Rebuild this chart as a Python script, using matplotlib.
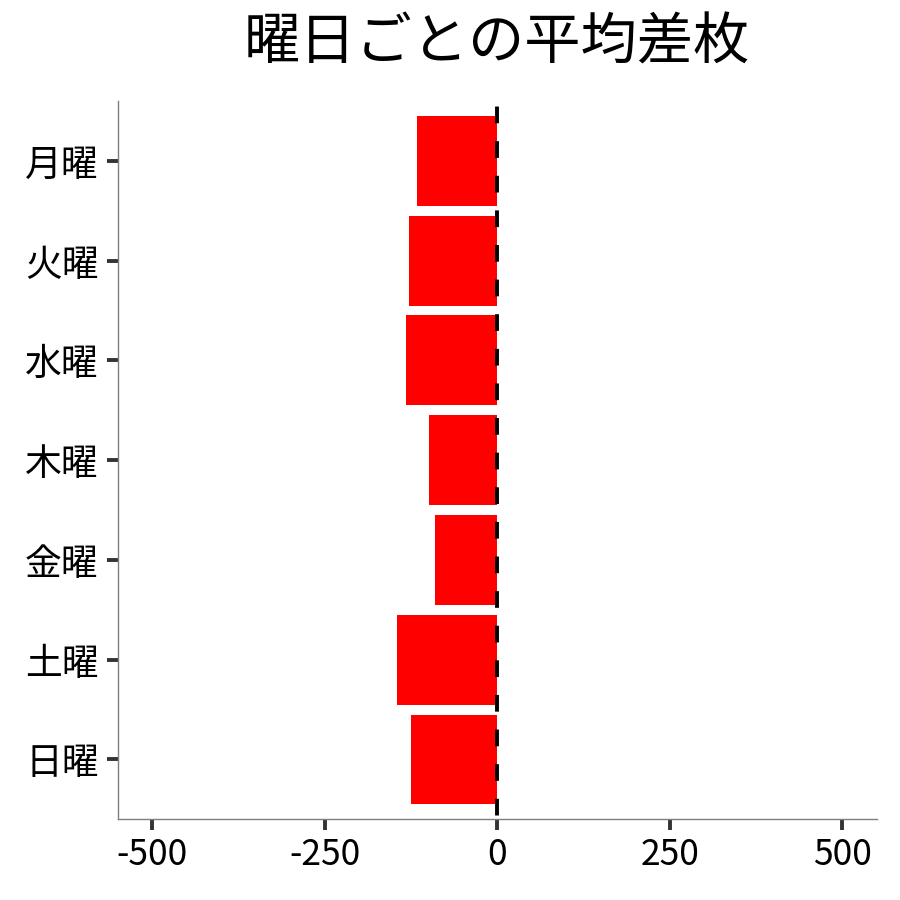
import matplotlib
matplotlib.use("Agg")
import matplotlib.pyplot as plt

plt.rcParams['font.family'] = ['Noto Sans CJK JP', 'DejaVu Sans']

# average difference per weekday
days = ["月曜", "火曜", "水曜", "木曜", "金曜", "土曜", "日曜"]
avg_diff = [-117, -128, -132, -99, -91, -145, -125]
x_ticks = [-500, -250, 0, 250, 500]
title = "曜日ごとの平均差枚"

fig = plt.figure(figsize=(9, 9), dpi=100)
ax = fig.add_axes([118 / 900, 1 - 819.3 / 900, 758.7 / 900, 718.3 / 900])

# first category on top, like a discrete y scale
ypos = list(range(len(days)))[::-1]
ax.barh(ypos, avg_diff, height=0.9, color='#FF0000', zorder=2)
ax.axvline(0, color='black', lw=2.8, linestyle=(8, (4.3, 4.6)), zorder=3)

ax.set_xlim(-550, 550)
ax.set_ylim(-0.6, len(days) - 1 + 0.6)
ax.set_xticks(x_ticks)
ax.set_xticklabels([str(t) for t in x_ticks])
ax.set_yticks(ypos)
ax.set_yticklabels(days)

for s in ['top', 'right']:
    ax.spines[s].set_visible(False)
for s in ['left', 'bottom']:
    ax.spines[s].set_color('#7f7f7f')
    ax.spines[s].set_linewidth(1.0)

ax.tick_params(axis='both', length=8, width=2.8, color='#333333',
               labelcolor='black')
ax.tick_params(axis='y', labelsize=26.5, pad=6)
ax.tick_params(axis='x', labelsize=25.5, pad=5)

fig.text(497 / 900, 1 - 44 / 900, title, fontsize=40.5, ha='center', va='center')

fig.savefig("out.png", dpi=100)
